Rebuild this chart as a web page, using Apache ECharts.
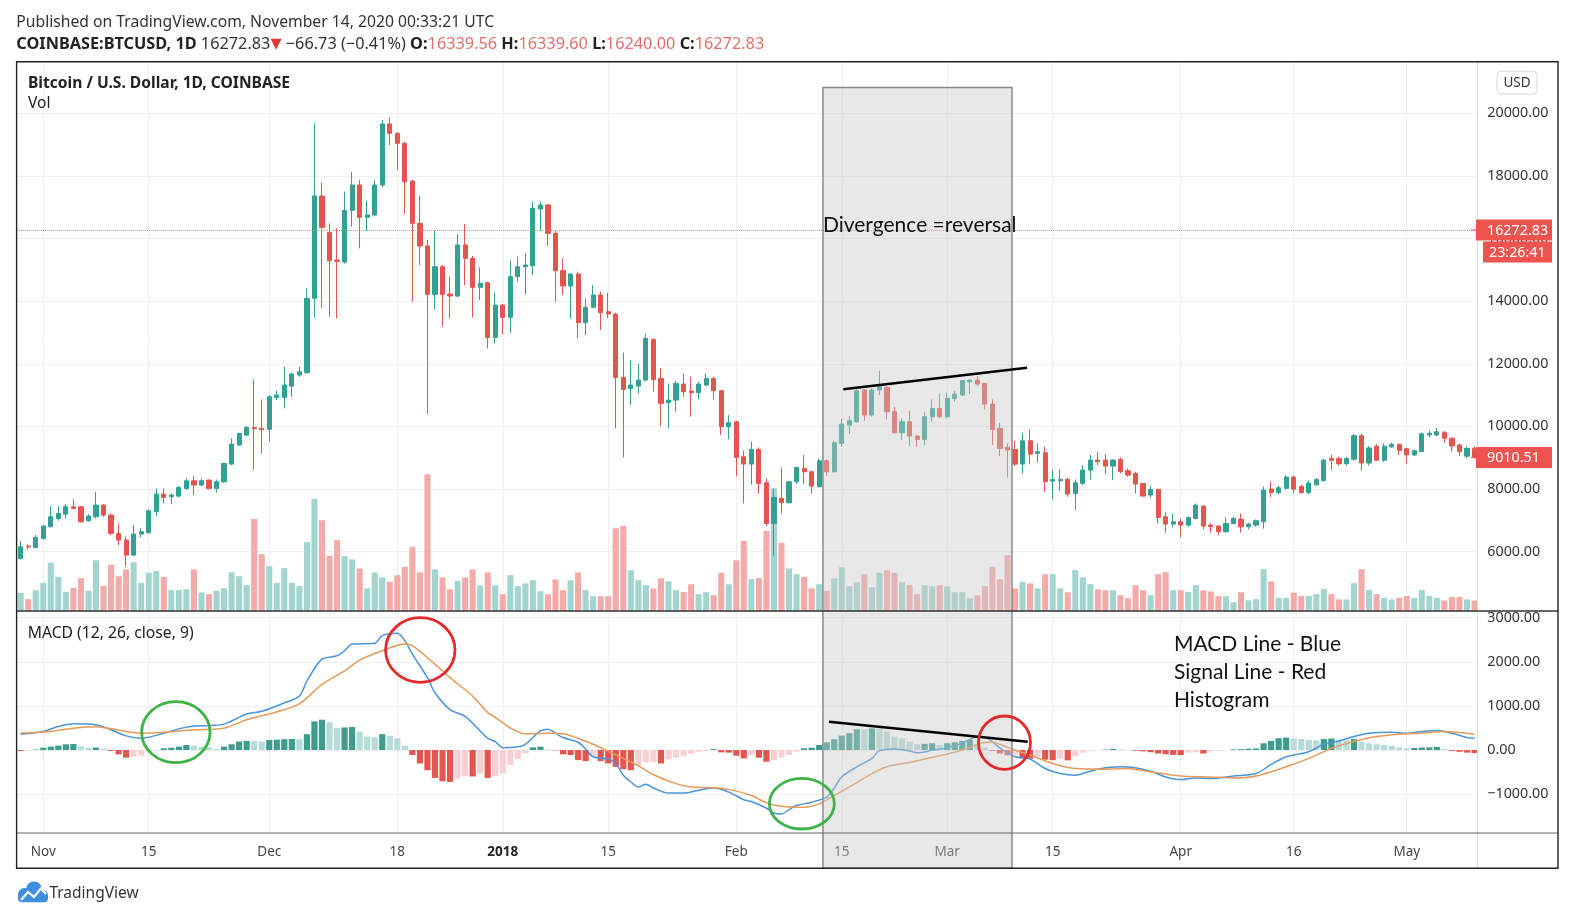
<!DOCTYPE html>
<html>
<head>
<meta charset="utf-8">
<script src="https://cdn.jsdelivr.net/npm/echarts@6/dist/echarts.min.js"></script>
<style>
html,body{margin:0;padding:0;background:#fff;}
#c{width:1580px;height:916px;}
</style>
</head>
<body>
<div id="c"></div>
<script>
// ---------------- DATA ----------------
// [date, open, high, low, close]
const candles = [
['2017-10-29',5782,6347,5750,6155],['2017-10-30',6177,6230,6070,6150],['2017-10-31',6134,6528,6102,6453],
['2017-11-01',6421,6847,6390,6816],['2017-11-02',6794,7455,6773,7114],['2017-11-03',7060,7455,6986,7220],
['2017-11-04',7199,7518,7060,7433],['2017-11-05',7433,7668,7348,7380],['2017-11-06',7433,7455,6922,6954],
['2017-11-07',6986,7199,6954,7135],['2017-11-08',7114,7913,7060,7487],['2017-11-09',7487,7518,7114,7167],
['2017-11-10',7167,7220,6528,6581],['2017-11-11',6581,6900,6209,6368],['2017-11-12',6368,6475,5516,5889],
['2017-11-13',5889,6847,5857,6560],['2017-11-14',6560,6741,6453,6635],['2017-11-15',6603,7348,6581,7306],
['2017-11-16',7284,8019,7135,7838],['2017-11-17',7838,8019,7540,7731],['2017-11-18',7753,7859,7518,7806],
['2017-11-19',7774,8094,7731,8051],['2017-11-20',8019,8338,7966,8264],['2017-11-21',8264,8413,7806,8125],
['2017-11-22',8125,8338,8094,8264],['2017-11-23',8285,8306,7987,8019],['2017-11-24',8019,8306,7881,8232],
['2017-11-25',8232,8839,8200,8818],['2017-11-26',8796,9616,8764,9435],['2017-11-27',9403,9797,9371,9776],
['2017-11-28',9723,10010,9691,9968],['2017-11-29',9968,11501,8605,9925],['2017-11-30',9936,10862,9137,9893],
['2017-12-01',9904,11001,9510,10947],['2017-12-02',10926,11139,10841,11001],['2017-12-03',10926,11906,10575,11320],
['2017-12-04',11288,11714,10947,11672],['2017-12-05',11640,11906,11586,11746],['2017-12-06',11714,14408,11693,14089],
['2017-12-07',14089,19680,13482,17359],['2017-12-08',17359,17785,13770,16358],['2017-12-09',16200,16486,13500,15293],
['2017-12-10',15314,16326,13450,15272],['2017-12-11',15250,17500,15200,16900],['2017-12-12',16900,18130,16380,17710],
['2017-12-13',17710,17870,15687,16677],['2017-12-14',16677,17200,16250,16750],['2017-12-15',16750,17870,16720,17710],
['2017-12-16',17710,19787,17636,19660],['2017-12-17',19660,19870,18988,19360],['2017-12-18',19360,19393,18189,19041],
['2017-12-19',19041,19100,16784,17817],['2017-12-20',17838,17870,13983,16486],['2017-12-21',16486,17359,15154,15762],
['2017-12-22',15762,15953,10394,14217],['2017-12-23',14217,16252,13738,15101],['2017-12-24',15101,15154,13185,14217],
['2017-12-25',14228,14782,13450,14164],['2017-12-26',14164,16145,14121,15794],['2017-12-27',15794,16465,14516,15367],
['2017-12-28',15367,15442,13482,14441],['2017-12-29',14441,15080,14036,14569],['2017-12-30',14590,14622,12492,12843],
['2017-12-31',12843,14270,12651,13876],['2018-01-01',13876,13908,12939,13482],['2018-01-02',13482,15293,12992,14782],
['2018-01-03',14782,15420,14622,15101],['2018-01-04',15101,15527,14217,15154],['2018-01-05',15133,17178,14835,16965],
['2018-01-06',16944,17178,16252,17072],['2018-01-07',17072,17103,15762,16166],['2018-01-08',16166,16252,13983,14974],
['2018-01-09',14974,15367,14196,14484],['2018-01-10',14484,14889,13450,14867],['2018-01-11',14867,14942,12811,13312],
['2018-01-12',13312,14089,12917,13802],['2018-01-13',13802,14516,13770,14196],['2018-01-14',14196,14302,13078,13631],
['2018-01-15',13663,14270,13450,13589],['2018-01-16',13589,13631,9936,11565],['2018-01-17',11565,12353,9009,11182],
['2018-01-18',11214,12119,10681,11320],['2018-01-19',11288,11991,11054,11480],['2018-01-20',11480,12970,11427,12811],
['2018-01-21',12779,12811,11107,11501],['2018-01-22',11533,11853,10010,10735],['2018-01-23',10756,11374,9936,10841],
['2018-01-24',10841,11459,10468,11374],['2018-01-25',11352,11693,10947,11107],['2018-01-26',11129,11586,10309,11075],
['2018-01-27',11075,11427,10862,11352],['2018-01-28',11320,11693,11288,11533],['2018-01-29',11533,11586,10862,11139],
['2018-01-30',11139,11161,9723,9990],['2018-01-31',9990,10362,9584,10117],['2018-02-01',10149,10181,8413,9009],
['2018-02-02',9030,9222,7540,8796],['2018-02-03',8796,9510,8136,9265],['2018-02-04',9265,9329,7859,8179],
['2018-02-05',8200,8338,6816,6900],['2018-02-06',6900,8019,5857,7731],['2018-02-07',7700,8690,7220,7561],
['2018-02-08',7561,8264,7540,8232],['2018-02-09',8232,8711,8157,8690],['2018-02-10',8658,9084,8157,8551],
['2018-02-11',8551,8583,7859,8094],['2018-02-12',8072,8977,8051,8903],['2018-02-13',8903,8946,8413,8551],
['2018-02-14',8551,9542,8519,9478],['2018-02-15',9457,10255,9350,10074],['2018-02-16',10042,10330,9755,10181],
['2018-02-17',10149,11267,10117,11139],['2018-02-18',11161,11182,10181,10362],['2018-02-19',10362,11214,10309,11161],
['2018-02-20',11161,11778,11001,11267],['2018-02-21',11246,11288,10223,10468],['2018-02-22',10468,10628,9776,9797],
['2018-02-23',9797,10255,9563,10149],['2018-02-24',10149,10500,9371,9691],['2018-02-25',9691,9723,9350,9584],
['2018-02-26',9584,10468,9403,10309],['2018-02-27',10309,10862,10149,10575],['2018-02-28',10575,11054,10255,10309],
['2018-03-01',10309,11075,10255,10894],['2018-03-02',10894,11139,10788,11033],['2018-03-03',11001,11480,10969,11459],
['2018-03-04',11427,11501,11033,11480],['2018-03-05',11480,11608,11288,11352],['2018-03-06',11374,11395,10543,10713],
['2018-03-07',10713,10862,9403,9904],['2018-03-08',9936,10117,9052,9297],['2018-03-09',9329,9457,8370,9244],
['2018-03-10',9265,9542,8732,8796],['2018-03-11',8796,9797,8498,9542],['2018-03-12',9542,9904,8796,9116],
['2018-03-13',9137,9457,8839,9190],['2018-03-14',9158,9350,7913,8232],['2018-03-15',8253,8626,7668,8306],
['2018-03-16',8264,8626,7945,8306],['2018-03-17',8306,8370,7753,7838],['2018-03-18',7860,8306,7327,8200],
['2018-03-19',8179,8764,8125,8605],['2018-03-20',8605,9084,8306,8924],['2018-03-21',8924,9190,8764,8871],
['2018-03-22',8924,9116,8477,8732],['2018-03-23',8732,8946,8285,8924],['2018-03-24',8946,9009,8498,8551],
['2018-03-25',8583,8658,8392,8445],['2018-03-26',8498,8551,7859,8157],['2018-03-27',8179,8200,7753,7774],
['2018-03-28',7806,8094,7731,7987],['2018-03-29',7987,8019,6901,7093],['2018-03-30',7114,7273,6603,6880],
['2018-03-31',6880,7220,6773,6954],['2018-04-01',6954,7060,6453,6848],['2018-04-02',6848,7114,6794,7093],
['2018-04-03',7060,7540,7028,7487],['2018-04-04',7455,7487,6709,6816],['2018-04-05',6848,6922,6603,6794],
['2018-04-06',6816,6847,6528,6635],['2018-04-07',6635,7093,6603,6901],['2018-04-08',6901,7114,6880,7060],
['2018-04-09',7039,7220,6603,6794],['2018-04-10',6794,6922,6709,6880],['2018-04-11',6848,7028,6794,6986],
['2018-04-12',6954,8077,6730,7965],['2018-04-13',8000,8245,7740,7886],['2018-04-14',7886,8110,7830,8043],
['2018-04-15',8021,8436,7987,8380],['2018-04-16',8380,8436,7852,7998],['2018-04-17',8077,8133,7852,7886],
['2018-04-18',7886,8268,7830,8189],['2018-04-19',8133,8358,8100,8301],['2018-04-20',8268,8975,8245,8919],
['2018-04-21',8975,9088,8604,8919],['2018-04-22',8975,9031,8750,8807],['2018-04-23',8807,9031,8750,8975],
['2018-04-24',8952,9762,8908,9705],['2018-04-25',9705,9762,8582,8830],['2018-04-26',8830,9369,8750,9312],
['2018-04-27',9369,9425,8897,8919],['2018-04-28',8919,9458,8863,9369],['2018-04-29',9346,9481,9313,9425],
['2018-04-30',9425,9458,9088,9234],['2018-05-01',9290,9313,8807,9088],['2018-05-02',9088,9257,9054,9223],
['2018-05-03',9200,9807,9178,9762],['2018-05-04',9730,9880,9650,9780],['2018-05-05',9725,9950,9700,9830],
['2018-05-06',9812,9850,9480,9620],['2018-05-07',9620,9650,9200,9374],['2018-05-08',9406,9440,9060,9192],
['2018-05-09',9050,9360,8980,9300],['2018-05-10',9300,9370,8970,9010.51]
];

const volumes = [
9100,5900,10400,
14100,24100,17100,9600,11600,16400,10100,25400,12600,23100,17400,20800,24400,14100,19100,19900,17100,10400,10400,10900,20800,9300,8400,10100,11400,19400,17400,12900,46100,28400,
22400,14100,21400,14100,12400,34400,56100,45400,27600,35400,27400,25800,21300,11300,19300,16800,14600,17900,22100,32100,19300,68400,20800,16800,10800,15100,16800,20800,12800,19300,12800,
8400,17900,12400,13800,15400,9900,8400,15800,10400,15400,19300,10400,7400,7400,7400,41400,42600,20400,15400,12900,11300,16300,14900,10400,9400,13400,8400,9400,7900,19100,13400,
25400,35100,15900,16400,40100,61300,34100,21300,18400,17100,11300,13400,10100,16300,21800,12400,14400,18400,11800,19100,20400,19100,14400,12900,8400,12900,12400,12900,
12300,9400,9400,6400,7900,12400,22100,15900,27900,11300,14600,13800,11300,18400,18400,11300,9400,20400,16800,13400,10800,10400,10400,7900,6400,12900,10400,7900,18400,19400,10400,
10400,9600,12900,10400,9800,7400,7400,4400,9400,5400,5900,20900,14800,6600,6600,9200,7500,7500,8400,11000,8400,5800,5800,13900,20900,10500,8400,6600,5800,6600,
7500,6600,10500,7500,6600,5200,7000,7000,5800,5200
];

const macdHist = [
-20,-15,10,53,76,99,130,135,84,50,55,23,-23,-99,-175,-153,-130,-38,-8,38,
53,76,114,99,76,61,23,76,130,191,206,200,191,229,235,244,250,244,359,649,
687,633,496,511,520,420,305,290,359,320,267,99,-114,-305,-458,-633,-710,-725,-649,-588,
-600,-534,-633,-588,-534,-343,-206,-76,60,76,15,-8,-99,-114,-229,-252,-153,-252,-305,-381,
-435,-458,-343,-282,-267,-305,-206,-175,-130,-84,-38,-15,20,-53,-60,-130,-191,-114,-175,-267,
-229,-175,-114,-38,38,53,114,175,244,328,381,470,465,490,480,420,305,267,191,130,
140,153,114,153,175,206,229,120,60,-20,-80,-120,-100,-190,-200,-150,-220,-230,-200,-235,
-140,-60,-15,-5,10,25,15,5,-15,-30,-50,-80,-95,-110,-115,-60,-50,-80,-30,-15,
-5,15,20,30,35,153,206,267,282,260,250,230,220,250,260,230,220,245,180,150,
130,110,95,60,40,45,55,60,70,25,-20,-40,-60,-70
];

// [day index (0 = 2017-10-29), value]
const macdLine = [
[0,359],[3,420],[5,534],[7,595],[10,572],[12,458],[14,320],[16,267],[19,381],[22,519],[25,557],[27,587],
[30,816],[32,877],[35,1068],[37,1221],[38,1564],[40,2060],[42,2136],[43,2251],[44,2403],[47,2419],[48,2594],
[50,2648],[51,2480],[52,2175],[54,1640],[55,1297],[57,916],[59,763],[62,267],[63,191],[64,53],[66,76],[67,130],
[69,435],[70,473],[71,381],[72,282],[74,175],[75,23],[76,-153],[78,-206],[79,-305],[80,-572],[81,-725],[82,-839],
[83,-778],[84,-862],[86,-977],[88,-977],[89,-954],[92,-855],[94,-954],[96,-1129],[97,-1167],[99,-1320],[100,-1434],
[101,-1450],[102,-1350],[103,-1259],[105,-1183],[107,-1068],[108,-862],[109,-610],[111,-381],[113,-191],[114,-15],
[116,23],[118,-23],[119,-61],[121,-8],[123,53],[125,153],[126,240],[127,300],[128,290],[129,190],[130,40],
[132,-153],[134,-206],[136,-420],[138,-534],[140,-572],[141,-534],[143,-435],[146,-381],[148,-404],[150,-481],
[152,-610],[154,-671],[156,-633],[158,-649],[161,-588],[164,-534],[166,-328],[168,-153],[171,-38],[173,130],
[175,206],[177,305],[179,381],[182,404],[184,381],[186,420],[188,442],[190,381],[192,282],[193,267]
];
const signalLine = [
[0,381],[4,420],[7,496],[10,526],[12,481],[16,381],[19,404],[23,458],[27,496],[30,687],[34,862],[37,1045],
[40,1488],[43,1793],[45,2037],[48,2251],[51,2403],[52,2365],[55,1946],[57,1640],[60,1221],[62,850],[63,740],
[64,620],[65,500],[67,366],[70,381],[72,370],[74,260],[76,130],[78,-30],[80,-191],[82,-360],[84,-560],[87,-763],
[89,-839],[92,-855],[94,-893],[97,-1030],[99,-1198],[101,-1274],[104,-1297],[106,-1221],[108,-1030],[111,-740],
[113,-534],[115,-381],[118,-282],[120,-206],[123,-90],[125,0],[126,60],[127,130],[128,170],[129,175],[130,130],
[131,60],[132,0],[134,-114],[137,-305],[140,-420],[144,-435],[147,-420],[150,-496],[154,-588],[158,-610],
[161,-633],[164,-588],[168,-381],[171,-191],[174,38],[177,191],[180,305],[183,359],[186,381],[189,420],[193,359]
];

const priceTicks = [6000, 8000, 10000, 12000, 14000, 16000, 18000, 20000];
const macdTicks = [-1000, 0, 1000, 2000, 3000];
const timeTickDates = ['2017-11-01','2017-11-15','2017-12-01','2017-12-18','2018-01-01','2018-01-15',
  '2018-02-01','2018-02-15','2018-03-01','2018-03-15','2018-04-01','2018-04-16','2018-05-01'];
const timeTickLabels = ['Nov','15','Dec','18','2018','15','Feb','15','Mar','15','Apr','16','May'];
const lastPrice = 16272.83;
const lastClose = 9010.51;
const countdown = '23:26:41';

// annotations, in data units (day index, value)
const shadeDays = [106.5, 131.6];
const shadeTopPrice = 20824;
const priceTrend = [[109.2, 11185], [133.6, 11875]];
const macdTrend = [[107.3, 642], [133.7, 188]];
const circleMarks = [
  {day: 20.6, value: 404, kind: 'g'}, {day: 53.05, value: 2268, kind: 'r'},
  {day: 103.7, value: -1218, kind: 'g'}, {day: 130.6, value: 166, kind: 'r'}
];
const divergenceText = {text: 'Divergence =reversal', day: 106.5, price: 16440};
const legendText = {lines: ['MACD Line - Blue', 'Signal Line - Red', 'Histogram'], day: 153.1, values: [2397, 1753, 1118]};

// ---------------- STYLE / LAYOUT ----------------
const UP = '#33a093', DOWN = '#e2564f';
const VOL_UP = '#a2d5cf', VOL_DOWN = '#f3aaa8';
const H_UP1 = '#3c9d8f', H_UP2 = '#b5dcd7', H_DN1 = '#e4554f', H_DN2 = '#f8cfd3';
const GRIDC = '#efefef';
const FONT = 'Noto Sans';
const FRAME = {x: 16.6, y: 61.7, x2: 1558, y2: 868.3};
const G0 = {left: 16.9, top: 61.7, width: 1461.4, height: 549.3};
const G1 = {left: 16.9, top: 611, width: 1461.4, height: 222};

const dates = candles.map(r => r[0]);
const ohlc = candles.map(r => [r[1], r[4], r[3], r[2]]);
const volData = volumes.map((v, i) => ({value: v, itemStyle: {color: candles[i][4] >= candles[i][1] ? VOL_UP : VOL_DOWN}}));
const histData = macdHist.map((h, i) => {
  const p = i > 0 ? macdHist[i - 1] : h;
  const c = h >= 0 ? (h >= p ? H_UP1 : H_UP2) : (h <= p ? H_DN1 : H_DN2);
  return {value: h, itemStyle: {color: c}};
});
const tickSet = new Set(timeTickDates);
const tickInterval = (idx, val) => tickSet.has(val);

const chart = echarts.init(document.getElementById('c'), null, {renderer: 'canvas', width: 1580, height: 916});

const fmtPrice = v => (v < 0 ? '\u2212' : '') + Math.abs(v).toFixed(2);

chart.setOption({
  animation: false,
  backgroundColor: '#ffffff',
  textStyle: {fontFamily: FONT},
  grid: [
    Object.assign({outerBoundsMode: 'none', containLabel: false}, G0),
    Object.assign({outerBoundsMode: 'none', containLabel: false}, G1)
  ],
  xAxis: [
    {type: 'category', gridIndex: 0, data: dates, boundaryGap: true,
     axisLine: {show: false}, axisTick: {show: false}, axisLabel: {show: false},
     splitLine: {show: true, interval: tickInterval, alignWithLabel: true, lineStyle: {color: GRIDC, width: 1}}},
    {type: 'category', gridIndex: 1, data: dates, boundaryGap: true,
     axisLine: {show: false},
     axisTick: {show: true, interval: tickInterval, alignWithLabel: true, length: 6, lineStyle: {color: '#e4e4e4'}},
     axisLabel: {show: true, interval: tickInterval, margin: 12, color: '#444', fontSize: 13.5, fontFamily: FONT,
       formatter: v => { const k = timeTickDates.indexOf(v); if (k < 0) return ''; const t = timeTickLabels[k]; return t === '2018' ? '{b|2018}' : t; },
       rich: {b: {fontWeight: 'bold', color: '#222', fontSize: 13.5, fontFamily: FONT}}},
     splitLine: {show: true, interval: tickInterval, alignWithLabel: true, lineStyle: {color: GRIDC, width: 1}}}
  ],
  yAxis: [
    {type: 'value', gridIndex: 0, position: 'right', min: 4104, max: 21648, scale: true,
     axisLine: {show: false}, axisTick: {show: false, customValues: priceTicks},
     axisLabel: {customValues: priceTicks, align: 'left', margin: 9, color: '#333', fontSize: 14.3, fontFamily: FONT, formatter: fmtPrice},
     splitLine: {show: true, lineStyle: {color: GRIDC, width: 1}}},
    {type: 'value', gridIndex: 0, min: 0, max: 274650, show: false, splitLine: {show: false}},
    {type: 'value', gridIndex: 1, position: 'right', min: -1882, max: 3152,
     axisLine: {show: false}, axisTick: {show: false, customValues: macdTicks},
     axisLabel: {customValues: macdTicks, align: 'left', margin: 9, color: '#333', fontSize: 14.3, fontFamily: FONT, formatter: fmtPrice},
     splitLine: {show: true, lineStyle: {color: GRIDC, width: 1}}}
  ],
  series: [
    {type: 'candlestick', xAxisIndex: 0, yAxisIndex: 0, data: ohlc, barWidth: '62%', z: 3,
     itemStyle: {color: UP, color0: DOWN, borderColor: UP, borderColor0: DOWN, borderWidth: 1},
     markLine: {silent: true, symbol: ['none', 'none'], animation: false, label: {show: false},
       lineStyle: {type: 'dotted', color: '#c4938d', width: 1}, data: [{yAxis: lastPrice}]}},
    {type: 'bar', xAxisIndex: 0, yAxisIndex: 1, data: volData, barWidth: '80%', z: 1, silent: true},
    {type: 'bar', xAxisIndex: 1, yAxisIndex: 2, data: histData, barWidth: '82%', z: 2, silent: true},
    {type: 'line', xAxisIndex: 1, yAxisIndex: 2, data: macdLine, smooth: 0.3, showSymbol: false, symbol: 'none', z: 4,
     lineStyle: {color: '#4a94d8', width: 1.5}, silent: true},
    {type: 'line', xAxisIndex: 1, yAxisIndex: 2, data: signalLine, smooth: 0.3, showSymbol: false, symbol: 'none', z: 4,
     lineStyle: {color: '#e49a58', width: 1.5}, silent: true}
  ]
});

// ---------------- annotations & chrome ----------------
function P(seriesIdx, d, v) {
  const i0 = Math.floor(d), f = d - i0;
  const a = chart.convertToPixel({seriesIndex: seriesIdx}, [i0, v]);
  const b = chart.convertToPixel({seriesIndex: seriesIdx}, [i0 + 1, v]);
  return [a[0] + (b[0] - a[0]) * f, a[1]];
}
function txt(x, y, text, o) {
  o = o || {};
  return {type: 'text', x: x, y: y, z: o.z || 60, silent: true,
    style: {text: text, fill: o.color || '#222', fontSize: o.size || 15, fontFamily: o.family || FONT,
      fontWeight: o.weight || 'normal', align: o.align || 'left', textAlign: o.align || 'left',
      verticalAlign: 'middle', textVerticalAlign: 'middle', rich: o.rich}};
}

const els = [];
// shaded divergence zone
const sl = P(0, shadeDays[0], shadeTopPrice), sr = P(0, shadeDays[1], shadeTopPrice);
els.push({type: 'rect', z: 50, silent: true,
  shape: {x: sl[0], y: sl[1], width: sr[0] - sl[0], height: FRAME.y2 - sl[1]},
  style: {fill: 'rgba(200,200,200,0.42)', stroke: '#8a8a8a', lineWidth: 1.5}});
// trend lines
const pa = P(0, priceTrend[0][0], priceTrend[0][1]), pb = P(0, priceTrend[1][0], priceTrend[1][1]);
els.push({type: 'line', z: 62, silent: true, shape: {x1: pa[0], y1: pa[1], x2: pb[0], y2: pb[1]}, style: {stroke: '#000', lineWidth: 2.6}});
const ma = P(2, macdTrend[0][0], macdTrend[0][1]), mb = P(2, macdTrend[1][0], macdTrend[1][1]);
els.push({type: 'line', z: 62, silent: true, shape: {x1: ma[0], y1: ma[1], x2: mb[0], y2: mb[1]}, style: {stroke: '#000', lineWidth: 2.6}});
// circles
const radii = [[34.2, 30.5], [34.7, 32.3], [32.5, 25.3], [26, 26.7]];
circleMarks.forEach((c, k) => {
  const p = P(2, c.day, c.value);
  els.push({type: 'ellipse', z: 64, silent: true, shape: {cx: p[0], cy: p[1], rx: radii[k][0], ry: radii[k][1]},
    style: {fill: 'none', stroke: c.kind === 'g' ? '#3fb24a' : '#e3292b', lineWidth: 2.8}});
});
// annotation texts
const dt = P(0, divergenceText.day, divergenceText.price);
els.push(txt(dt[0], dt[1], divergenceText.text, {size: 21, family: 'Lato', color: '#111', z: 66}));
legendText.lines.forEach((t, k) => {
  const p = P(2, legendText.day, legendText.values[k]);
  els.push(txt(p[0], p[1], t, {size: 21, family: 'Lato', color: '#111', z: 66}));
});

// header
els.push(txt(16.3, 22.6, 'Published on TradingView.com, November 14, 2020 00:33:21 UTC', {size: 15.7, color: '#333'}));
const RED_T = '#e0716c';
const HS = 16.3;
els.push(txt(16.3, 44.2,
  '{b|COINBASE:BTCUSD, 1D} 16272.83{t|\u25BC} \u221266.73 (\u22120.41%) {b|O:}{r|16339.56} {b|H:}{r|16339.60} {b|L:}{r|16240.00} {b|C:}{r|16272.83}',
  {size: HS, color: '#333', rich: {
    b: {fontWeight: 'bold', fill: '#222', color: '#222', fontSize: HS, fontFamily: FONT},
    r: {fill: RED_T, color: RED_T, fontSize: HS, fontFamily: FONT},
    t: {fill: '#e53935', color: '#e53935', fontSize: 14.5, fontFamily: 'DejaVu Sans'}}}));
// pane titles
els.push(txt(28, 83.4, 'Bitcoin / U.S. Dollar, 1D, COINBASE', {size: 15.6, weight: 'bold', color: '#222'}));
els.push(txt(28, 103.3, 'Vol', {size: 15.6, color: '#222'}));
els.push(txt(27.7, 633.3, 'MACD (12, 26, close, 9)', {size: 15.7, color: '#222'}));

// frame and separators
els.push({type: 'line', z: 90, silent: true, shape: {x1: 1477.5, y1: FRAME.y, x2: 1477.5, y2: FRAME.y2}, style: {stroke: '#dcdcdc', lineWidth: 1}});
els.push({type: 'line', z: 91, silent: true, shape: {x1: FRAME.x, y1: 611, x2: FRAME.x2, y2: 611}, style: {stroke: '#333', lineWidth: 1.3}});
els.push({type: 'line', z: 91, silent: true, shape: {x1: FRAME.x, y1: 833, x2: FRAME.x2, y2: 833}, style: {stroke: '#666', lineWidth: 1}});
els.push({type: 'rect', z: 92, silent: true, shape: {x: FRAME.x, y: FRAME.y, width: FRAME.x2 - FRAME.x, height: FRAME.y2 - FRAME.y},
  style: {fill: 'none', stroke: '#222', lineWidth: 1.4}});

// USD box
els.push({type: 'rect', z: 93, silent: true, shape: {x: 1497, y: 71.2, width: 40, height: 22.8, r: 4},
  style: {fill: '#fff', stroke: '#d6d8de', lineWidth: 1}});
els.push(txt(1517, 82.8, 'USD', {size: 13.5, color: '#333', align: 'center', z: 94}));

// price labels
function priceTag(y, text, x0) {
  els.push({type: 'rect', z: 95, silent: true, shape: {x: x0, y: y - 10.5, width: 1552 - x0, height: 21}, style: {fill: '#ef5350'}});
  els.push({type: 'line', z: 95, silent: true, shape: {x1: 1471, y1: y, x2: 1477, y2: y}, style: {stroke: '#ef5350', lineWidth: 1}});
  els.push(txt(1487, y + 0.5, text, {size: 14.3, color: '#fff', z: 96}));
}
const yLast = P(0, 0, lastPrice)[1];
priceTag(yLast, lastPrice.toFixed(2), 1476);
els.push({type: 'rect', z: 95, silent: true, shape: {x: 1483, y: yLast + 11.5, width: 69, height: 21}, style: {fill: '#ef5350'}});
els.push(txt(1489, yLast + 22.5, countdown, {size: 14.3, color: '#fff', z: 96}));
priceTag(P(0, 0, lastClose)[1], lastClose.toFixed(2), 1476);

// TradingView logo
const LOGO = '#3f8ee0';
els.push({type: 'circle', z: 95, silent: true, shape: {cx: 24.5, cy: 894.5, r: 6.5}, style: {fill: LOGO}});
els.push({type: 'circle', z: 95, silent: true, shape: {cx: 34, cy: 889.5, r: 8}, style: {fill: LOGO}});
els.push({type: 'circle', z: 95, silent: true, shape: {cx: 42, cy: 895.5, r: 6}, style: {fill: LOGO}});
els.push({type: 'rect', z: 95, silent: true, shape: {x: 18, y: 894, width: 30, height: 8.3, r: 4}, style: {fill: LOGO}});
els.push({type: 'polyline', z: 96, silent: true, shape: {points: [[21, 900], [28, 892], [34, 897], [41, 888.5], [46, 894]]},
  style: {stroke: '#fff', lineWidth: 2.2, fill: 'none'}});
els.push(txt(49.4, 893.3, 'TradingView', {size: 15.5, color: '#333'}));

chart.setOption({graphic: {elements: els}});
</script>
</body>
</html>
